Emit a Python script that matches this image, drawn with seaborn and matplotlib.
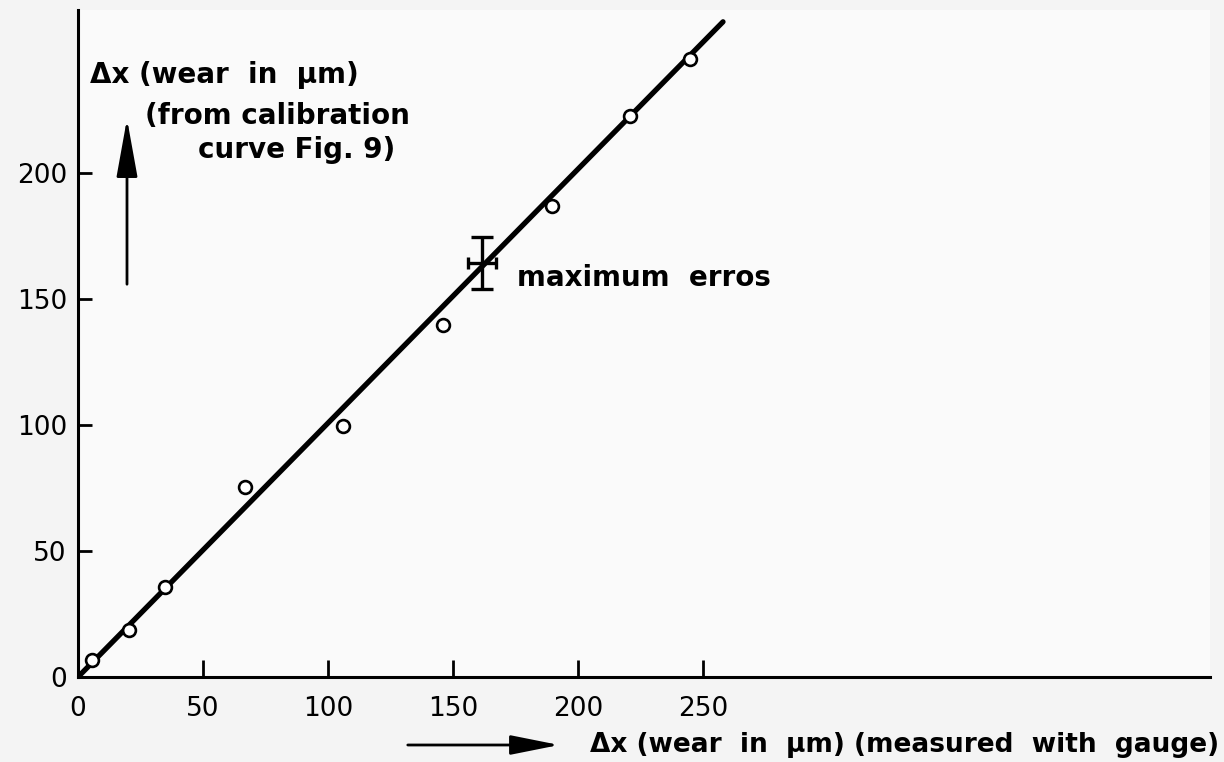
import matplotlib
matplotlib.use("Agg")
import matplotlib.pyplot as plt
import seaborn as sns
import pandas as pd
import numpy as np

# Data
gauge_x = [5.6, 20.4, 34.8, 66.8, 106.0, 146.0, 189.6, 220.8, 244.8]
calib_y = [6.7, 18.7, 35.7, 75.4, 99.6, 139.7, 186.9, 222.6, 245.2]
fit_x = [0, 258]
fit_y = [0, 260]
err_x, err_y = 161.6, 164.3
err_dx, err_dy = 5.6, 10.5
x_ticks = [0, 50, 100, 150, 200, 250]
y_ticks = [0, 50, 100, 150, 200]

sns.set_style("ticks")
plt.rcParams['font.family'] = ['DejaVu Sans']
plt.rcParams['text.color'] = 'black'
plt.rcParams['xtick.color'] = 'black'
plt.rcParams['ytick.color'] = 'black'

fig = plt.figure(figsize=(12.24, 7.62), dpi=100, facecolor="#f4f4f4")
ax = fig.add_axes([78/1224, 85/762, (1210-78)/1224, (677-10)/762])
ax.set_facecolor("#fafafa")

pts = pd.DataFrame({"x": gauge_x, "y": calib_y})
fit = pd.DataFrame({"x": fit_x, "y": fit_y})

sns.lineplot(data=fit, x="x", y="y", ax=ax, color="black", linewidth=3.8, zorder=2)
sns.scatterplot(data=pts, x="x", y="y", ax=ax, marker="o", s=85,
                facecolor="white", edgecolor="black", linewidth=1.9, zorder=3)

# error cross
ax.errorbar([err_x], [err_y], yerr=[err_dy], fmt="none", ecolor="black",
            elinewidth=2.4, capsize=8, capthick=2.4, zorder=4)
ax.errorbar([err_x], [err_y], xerr=[err_dx], fmt="none", ecolor="black",
            elinewidth=2.4, capsize=4, capthick=2.4, zorder=4)

ax.set_xlim(0, (1210-78)/2.5)
ax.set_ylim(0, (677-10)/2.52)
ax.set_xticks(x_ticks)
ax.set_yticks(y_ticks)
ax.set_xticklabels([str(t) for t in x_ticks])
ax.set_yticklabels([str(t) for t in y_ticks])
ax.tick_params(axis="x", direction="in", length=12, width=2, pad=14, labelsize=19)
ax.tick_params(axis="y", direction="in", length=10, width=2, pad=8, labelsize=19)
ax.set_xlabel("")
ax.set_ylabel("")
for s in ["top", "right"]:
    ax.spines[s].set_visible(False)
for s in ["left", "bottom"]:
    ax.spines[s].set_linewidth(2.2)
    ax.spines[s].set_color("black")

tkw = dict(fontsize=20, fontweight="bold", va="center", ha="left")

# annotation text
ax.text(err_x + 14, err_y - 6, "maximum  erros", **tkw)

# y-axis label block
fig.text(90/1224, 1 - 75/762, "Δx (wear  in  μm)", **tkw)
fig.text(145/1224, 1 - 116/762, "(from calibration", **tkw)
fig.text(198/1224, 1 - 150/762, "curve Fig. 9)", **tkw)
fig.add_artist(matplotlib.patches.FancyArrowPatch(
    (127/1224, 1 - 287/762), (127/1224, 1 - 116/762), transform=fig.transFigure,
    arrowstyle="-|>,head_length=36,head_width=6.5", color="black", linewidth=2))

# x-axis label block
fig.text(1219/1224, 1 - 745/762, "Δx (wear  in  μm) (measured  with  gauge)",
         fontsize=19, fontweight="bold", va="center", ha="right")
fig.add_artist(matplotlib.patches.FancyArrowPatch(
    (405/1224, 1 - 745/762), (562/1224, 1 - 745/762), transform=fig.transFigure,
    arrowstyle="-|>,head_length=30,head_width=6", color="black", linewidth=2))

fig.savefig("out.png", dpi=100, facecolor=fig.get_facecolor())
